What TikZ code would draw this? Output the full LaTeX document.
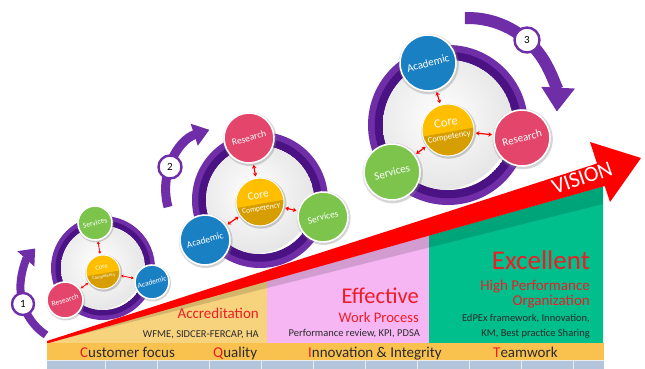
\documentclass[tikz,border=0pt]{standalone}
\usepackage{fontspec}
\setmainfont{Carlito}
\usetikzlibrary{arrows.meta,calc,shadows}
\definecolor{purA}{HTML}{6F2DA8}
\definecolor{purB}{HTML}{4A1282}
\definecolor{resC}{HTML}{E4456B}
\definecolor{serC}{HTML}{7CC44B}
\definecolor{acaC}{HTML}{1A80C4}
\definecolor{corA}{HTML}{FFBF00}
\definecolor{corB}{HTML}{D69E00}
\definecolor{yelR}{HTML}{F8D37E}
\definecolor{pinR}{HTML}{F6B6F4}
\definecolor{grnR}{HTML}{00BF8D}
\definecolor{barC}{HTML}{F9C24E}
\definecolor{stripC}{HTML}{B3C5DA}
\definecolor{redT}{HTML}{EE1C25}
\definecolor{darkT}{HTML}{2B2B2B}
\newcommand{\ringbg}[4]{%
  \fill[purA] (#1,#2) circle[radius=#3];
  \fill[purB] (#1,#2) circle[radius=#3-0.45*#4];
  \begin{scope}
    \clip (#1,#2) circle[radius=#3-#4];
    \fill[white] (#1,#2) circle[radius=#3-#4];
    \shade[inner color=white, outer color=black!10] ($(#1,#2)+(-0.1*#3,-0.1*#3)$) circle[radius=#3-#4+0.1*#3];
  \end{scope}
}
\newcommand{\coreball}[6]{%
  \fill[black,opacity=0.18] ($(#2,#3)+(0.8,1.2)$) circle[radius=#4+1.5];
  \fill[corA] (#2,#3) circle[radius=#4];
  \begin{scope}
    \clip (#2,#3) circle[radius=#4];
    \fill[corB, rotate around={10:(#2,#3)}] ($(#2,#3)+(-2*#4,0.08*#4)$) rectangle ($(#2,#3)+(2*#4,2*#4)$);
  \end{scope}
  \node[circle, draw=white, line width=1pt, minimum size=2*#4pt, inner sep=0pt] (#1) at (#2,#3) {};
  \node[text=white, rotate=10, inner sep=0pt, font=\fontsize{#5}{#5}\selectfont] at ($(#2,#3)+(-0.08*#4,-0.3*#4)$) {Core};
  \node[text=white, rotate=10, inner sep=0pt, font=\fontsize{#6}{#6}\selectfont] at ($(#2,#3)+(0.05*#4,0.28*#4)$) {Competency};
}
\begin{document}
\begin{tikzpicture}[x=1pt,y=-1pt,
  ball/.style={circle, draw=white, line width=1.6pt, inner sep=0pt, text=white,
    circular drop shadow={shadow xshift=0.6pt, shadow yshift=-1pt, shadow scale=1.08, opacity=0.35}},
  dbl/.style={red, line width=1.2pt, {Stealth[length=3.5pt,width=4.5pt]}-{Stealth[length=3.5pt,width=4.5pt]}, shorten >=1.5pt, shorten <=1.5pt},
  dbls/.style={red, line width=0.8pt, {Stealth[length=2.5pt,width=3.2pt]}-{Stealth[length=2.5pt,width=3.2pt]}, shorten >=1pt, shorten <=1pt},
  badge/.style={circle, draw=purA, line width=2.4pt, fill=white, inner sep=0pt, font=\fontsize{11}{11}\selectfont},
  rtxt/.style={anchor=base east, inner sep=0pt, text=redT},
  dtxt/.style={anchor=base east, inner sep=0pt, text=darkT, font=\fontsize{10.5}{11}\selectfont},
  btxt/.style={anchor=base west, inner sep=0pt, text=darkT, font=\fontsize{15}{15}\selectfont}
]
\useasboundingbox (0,0) rectangle (645,369);
\fill[white] (0,0) rectangle (645,369);

% coloured regions
\fill[yelR] (47,343) -- (267,281) -- (267,343) -- cycle;
\fill[pinR] (267,281) -- (429,235.4) -- (429,343) -- (267,343) -- cycle;
\fill[grnR] (429,235.4) -- (603,186.3) -- (603,343) -- (429,343) -- cycle;
\fill[black, opacity=0.14] (47,343) -- (603,186.3) -- (603,204) -- cycle;

% vision arrow
\fill[red] (47,341) -- (597,163.5) -- (590,142) -- (641,158) -- (610,202) -- (604.7,186) -- (47,343.5) -- cycle;
\node[text=white, rotate=19, font=\fontsize{22}{22}\selectfont] (vis) at (582,178) {VISION};

% bottom bar
\fill[barC] (47,343) rectangle (604,360);
\fill[stripC] (47,360) rectangle (604,369);
\draw[white, opacity=0.7, line width=0.8pt] (47,360.5) -- (604,360.5);
\foreach \xx in {105,157,209,261,313,365,417,469,521,573}
  \draw[white, opacity=0.7, line width=0.8pt] (\xx,360.5) -- (\xx,369);

% texts in regions
\node[rtxt, font=\fontsize{15}{15}\selectfont] (acc) at (259,318) {Accreditation};
\node[dtxt] (wfme) at (259,337) {WFME, SIDCER-FERCAP, HA};
\node[rtxt, font=\fontsize{22.5}{23}\selectfont] (eff) at (419,303) {Effective};
\node[rtxt, font=\fontsize{14.6}{15}\selectfont] (wp) at (419,322.5) {Work Process};
\node[dtxt] (perf) at (420,336) {Performance review, KPI, PDSA};
\node[rtxt, font=\fontsize{27}{27}\selectfont] (exc) at (590,269) {Excellent};
\node[rtxt, font=\fontsize{15}{15}\selectfont] (hp) at (590,290) {High Performance};
\node[rtxt, font=\fontsize{15}{15}\selectfont] (org) at (590,305.5) {Organization};
\node[dtxt] (edp) at (590,321.5) {EdPEx framework, Innovation,};
\node[dtxt] (km) at (590,336.5) {KM, Best practice Sharing};

\node[btxt] (cf) at (80,357) {\textcolor{redT}{C}ustomer focus};
\node[btxt] (ql) at (213,357) {\textcolor{redT}{Q}uality};
\node[btxt] (ii) at (308,357) {\textcolor{redT}{I}nnovation \& Integrity};
\node[btxt] (tw) at (493,357) {\textcolor{redT}{T}eamwork};

% ===== group 1
\ringbg{103}{268}{52}{10}
\coreball{core1}{103}{272}{17}{6.5}{4.5}
\node[ball, fill=serC, minimum size=34pt, rotate=15, font=\fontsize{7.5}{7.5}\selectfont] (ser1) at (95,223) {Services};
\node[ball, fill=acaC, minimum size=34pt, rotate=15, font=\fontsize{7.5}{7.5}\selectfont] (aca1) at (152,282) {Academic};
\node[ball, fill=resC, minimum size=36pt, rotate=15, font=\fontsize{7.5}{7.5}\selectfont] (res1) at (65,300) {Research};
\draw[dbls] (core1) -- (ser1);
\draw[dbls] (core1) -- (aca1);
\draw[dbls] (core1) -- (res1);

% ===== group 2
\ringbg{260}{200}{68}{14}
\coreball{core2}{260}{202}{24}{11}{7.5}
\node[ball, fill=resC, minimum size=50pt, rotate=15, font=\fontsize{9.5}{9.5}\selectfont] (res2) at (249,138) {Research};
\node[ball, fill=serC, minimum size=50pt, rotate=15, font=\fontsize{9.5}{9.5}\selectfont] (ser2) at (323,217) {Services};
\node[ball, fill=acaC, minimum size=50pt, rotate=15, font=\fontsize{9.5}{9.5}\selectfont] (aca2) at (205,240) {Academic};
\draw[dbl] (core2) -- (res2);
\draw[dbl] (core2) -- (ser2);
\draw[dbl] (core2) -- (aca2);

% ===== group 3
\ringbg{448}{125}{80}{15}
\coreball{core3}{448}{130}{26}{12.5}{8.5}
\node[ball, fill=acaC, minimum size=56pt, rotate=15, font=\fontsize{11}{11}\selectfont] (aca3) at (428,63) {Academic};
\node[ball, fill=resC, minimum size=56pt, rotate=15, font=\fontsize{11}{11}\selectfont] (res3) at (522,138) {Research};
\node[ball, fill=serC, minimum size=56pt, rotate=15, font=\fontsize{11}{11}\selectfont] (ser3) at (392,172) {Services};
\draw[dbl] (core3) -- (aca3);
\draw[dbl] (core3) -- (res3);
\draw[dbl] (core3) -- (ser3);

% ===== cycle arrows
\draw[purA, line width=8pt, -{Triangle[width=22pt,length=14pt]}] (78,287) ++(123.7:57.6) arc[start angle=123.7, end angle=222, radius=57.6];
\node[badge, minimum size=22pt] (b1) at (23,304) {1};
\draw[purA, line width=9pt, -{Triangle[width=22pt,length=16pt]}] (229,190) ++(164.4:63.3) arc[start angle=164.4, end angle=252, radius=63.3];
\node[badge, minimum size=23pt] (b2) at (170,167) {2};
\draw[purA, line width=12pt, -{Triangle[width=32pt,length=24pt]}] (468,107) ++(268:89) arc[start angle=268, end angle=363, radius=89];
\node[badge, minimum size=25pt] (b3) at (527,40) {3};
\end{tikzpicture}
\end{document}
